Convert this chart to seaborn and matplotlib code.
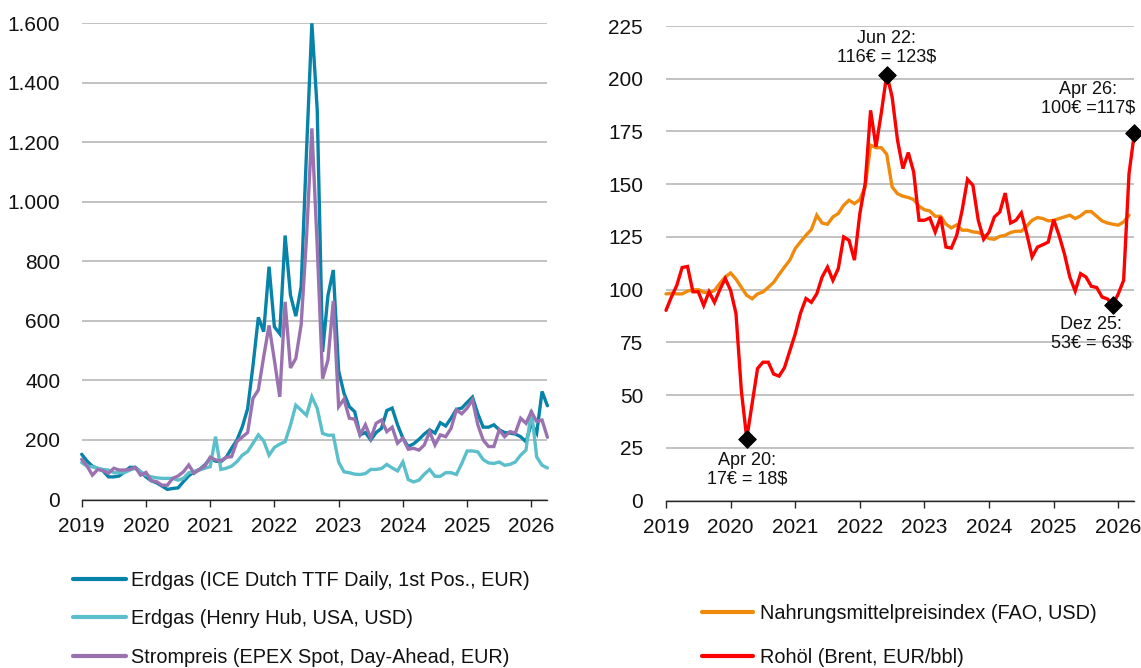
import numpy as np
import pandas as pd
import matplotlib
matplotlib.use("Agg")
import matplotlib.pyplot as plt
import seaborn as sns
from matplotlib.ticker import FuncFormatter

# ---------------- data (monthly, Jan 2019 .. Apr 2026) ----------------
start = "2019-01-01"
n_months = 88

ttf = [152, 129, 112, 104, 96, 76, 76, 79, 93, 108, 108, 93,
       76, 63, 56, 45, 34, 37, 39, 60, 80, 93, 101, 116,
       138, 129, 127, 142, 172, 200, 244, 305, 450, 612, 564, 782,
       580, 557, 887, 687, 616, 715, 1170, 1600, 1309, 496, 685, 771,
       432, 357, 312, 295, 217, 225, 200, 225, 239, 299, 307, 251,
       206, 178, 187, 202, 220, 234, 223, 258, 247, 273, 303, 307,
       326, 344, 288, 243, 243, 251, 234, 225, 223, 220, 211, 194,
       255, 223, 363, 315]

henry_hub = [124, 112, 110, 105, 101, 99, 90, 90, 90, 99, 105, 93,
             82, 76, 73, 71, 71, 71, 65, 71, 90, 93, 99, 105,
             110, 211, 101, 105, 112, 127, 149, 161, 189, 217, 197, 149,
             175, 186, 194, 250, 317, 300, 283, 345, 306, 222, 216, 216,
             126, 93, 90, 85, 84, 87, 101, 101, 104, 118, 106, 96,
             126, 67, 59, 65, 85, 101, 78, 78, 90, 90, 84, 121,
             163, 163, 160, 134, 123, 121, 126, 115, 118, 126, 149, 166,
             300, 143, 115, 106]

strom = [135, 112, 82, 101, 97, 88, 105, 99, 99, 101, 108, 82,
         91, 63, 60, 48, 48, 71, 79, 93, 116, 88, 101, 112,
         142, 133, 130, 142, 144, 195, 210, 225, 340, 368, 480, 585,
         468, 345, 664, 442, 474, 588, 880, 1247, 850, 406, 468, 667,
         312, 337, 273, 270, 217, 251, 206, 256, 267, 228, 243, 189,
         206, 169, 172, 166, 183, 228, 183, 217, 211, 239, 301, 288,
         307, 335, 251, 200, 178, 178, 234, 211, 228, 223, 273, 256,
         295, 262, 267, 209]

fao = [98, 98.3, 98, 98, 99.3, 99.9, 100, 98.8, 98.5, 99.6, 103, 106,
       107.9, 105, 101.1, 97.3, 95.7, 98, 98.9, 101.1, 103.5, 107.2, 110.7, 114,
       119.5, 122.7, 125.8, 128.5, 135.3, 131.6, 131, 134.5, 136.1, 140, 142.4, 140.8,
       142.7, 148.7, 168.5, 167.3, 167.3, 164.2, 148.7, 145.5, 144.3, 143.7, 142.7, 139.5,
       137.9, 137.3, 134.8, 134.8, 131, 129.3, 130.7, 128.2, 128.2, 127.4, 127.1, 125.8,
       124.2, 123.9, 125.3, 125.8, 127.1, 127.7, 127.7, 130.1, 132.9, 134.2, 133.7, 132.6,
       132.9, 133.7, 134.5, 135.3, 133.7, 135, 137, 137, 134.8, 132.6, 131.6, 131,
       130.6, 132.1, 135.3, np.nan]

brent = [90.2, 96.5, 102, 110.5, 111, 99, 99, 92.5, 99, 94, 100, 105.3,
         99.7, 88.7, 52, 29.4, 46, 62.6, 65.6, 65.6, 60, 59, 63, 71,
         79, 89, 95.8, 94, 98, 106, 110.7, 104.4, 110, 125, 123.4, 114,
         136, 150.4, 185, 167.7, 184, 202, 191.4, 170.9, 157.4, 165, 155.8, 132.9,
         132.9, 134, 127.3, 134.5, 120.2, 119.7, 125.8, 137.6, 152.3, 149.5, 132.9, 123.9,
         127.3, 134.5, 136.8, 145.8, 131.6, 132.9, 136.4, 126.6, 115.5, 120.2, 121.3, 122.6,
         133.2, 125.8, 117, 106, 99.3, 107.6, 106, 101.6, 101, 96.5, 95.6, 92.8,
         98, 104.4, 155, 174.3]

left_labels = ["Erdgas (ICE Dutch TTF Daily, 1st Pos., EUR)",
               "Erdgas (Henry Hub, USA, USD)",
               "Strompreis (EPEX Spot, Day-Ahead, EUR)"]
right_labels = ["Nahrungsmittelpreisindex (FAO, USD)",
                "Rohöl (Brent, EUR/bbl)"]

annot_months = ["2020-04", "2022-06", "2025-12", "2026-04"]
annot_texts = ["Apr 20:\n17€ = 18$", "Jun 22:\n116€ = 123$",
               "Dez 25:\n53€ = 63$", "Apr 26:\n100€ =117$"]

year_ticks = list(range(2019, 2027))
left_yticks = list(range(0, 1601, 200))
right_yticks = list(range(0, 226, 25))

# ---------------- frame ----------------
dates = pd.date_range(start, periods=n_months, freq="MS")
df = pd.DataFrame({
    "t": dates.year + (dates.month - 1) / 12.0,
    "ttf": ttf, "hh": henry_hub, "strom": strom,
    "fao": fao, "brent": brent,
})

sns.set_theme(style="white")
plt.rcParams["font.family"] = ["Liberation Sans", "DejaVu Sans"]

C_TTF = "#0782A8"
C_HH = "#5BBFCB"
C_STROM = "#9B72B0"
C_FAO = "#F08A0C"
C_BRENT = "#FF0000"
GRID = "#B2B2B2"
AXC = "#262626"
LW = 2.4
TICKSIZE = 15

W, H = 1141, 668
fig = plt.figure(figsize=(W / 100, H / 100), dpi=100)

ax1 = fig.add_axes([81.7 / W, (H - 499.5) / H, (547.4 - 81.7) / W, (499.5 - 23.3) / H])
ax2 = fig.add_axes([666.0 / W, (H - 500.6) / H, (1134.4 - 666.0) / W, (500.6 - 26.0) / H])

xmax = df["t"].iloc[-1]

for ax, col, c, lab in [(ax1, "ttf", C_TTF, left_labels[0]),
                        (ax1, "hh", C_HH, left_labels[1]),
                        (ax1, "strom", C_STROM, left_labels[2]),
                        (ax2, "fao", C_FAO, right_labels[0]),
                        (ax2, "brent", C_BRENT, right_labels[1])]:
    sns.lineplot(data=df, x="t", y=col, ax=ax, color=c, lw=LW, label=lab,
                 legend=False, clip_on=False, solid_joinstyle="miter")

# annotations (diamonds + text)
idx = [list(dates.strftime("%Y-%m")).index(m) for m in annot_months]
pts = df.iloc[idx]
sns.scatterplot(x=pts["t"], y=pts["brent"], ax=ax2, marker="D", s=80,
                color="black", edgecolor="black", zorder=5, clip_on=False,
                legend=False)
offsets = [(0, -31), (0, 27), (-22, -29), (-46, 34)]
for (i, row), txt, off in zip(pts.iterrows(), annot_texts, offsets):
    ax2.annotate(txt, xy=(row["t"], row["brent"]), xytext=off,
                 textcoords="offset pixels", ha="center", va="center",
                 multialignment="center", fontsize=13, linespacing=1.15,
                 color="#111111")

fmt = FuncFormatter(lambda v, p: f"{v:,.0f}".replace(",", "."))
for ax, yt, pad in [(ax1, left_yticks, 15.5), (ax2, right_yticks, 16.5)]:
    ax.set_xlim(2019, xmax)
    ax.set_ylim(yt[0], yt[-1])
    ax.set_yticks(yt)
    ax.set_xticks(year_ticks)
    ax.yaxis.set_major_formatter(fmt)
    ax.set_xticklabels([str(y) for y in year_ticks])
    ax.set_xlabel("")
    ax.set_ylabel("")
    ax.grid(axis="y", color=GRID, lw=1.1)
    ax.grid(axis="x", visible=False)
    ax.set_axisbelow(True)
    for s in ["top", "right", "left"]:
        ax.spines[s].set_visible(False)
    ax.spines["bottom"].set_color(AXC)
    ax.spines["bottom"].set_linewidth(1.0)
    ax.tick_params(axis="y", length=0, pad=pad, labelsize=TICKSIZE, labelcolor="#111111")
    ax.tick_params(axis="x", direction="out", length=5, width=1.0, color=AXC,
                   pad=7.5, labelsize=TICKSIZE, labelcolor="#111111", bottom=True)
    ax.set_facecolor("white")

# legends
h1, l1 = ax1.get_legend_handles_labels()
h2, l2 = ax2.get_legend_handles_labels()
leg1 = fig.legend(h1, l1, loc="upper left", bbox_to_anchor=(73 / W, (H - 571) / H),
                  frameon=False, fontsize=14.3, handlelength=2.65, handletextpad=0.25,
                  labelspacing=0.97, borderpad=0, borderaxespad=0)
leg2 = fig.legend(h2, l2, loc="upper left", bbox_to_anchor=(702 / W, (H - 604) / H),
                  frameon=False, fontsize=14.3, handlelength=2.55, handletextpad=0.38,
                  labelspacing=1.24, borderpad=0, borderaxespad=0)
for leg in (leg1, leg2):
    for ln in leg.get_lines():
        ln.set_linewidth(3.0)
    for t in leg.get_texts():
        t.set_color("#111111")

fig.savefig("out.png", dpi=100, facecolor="white")
